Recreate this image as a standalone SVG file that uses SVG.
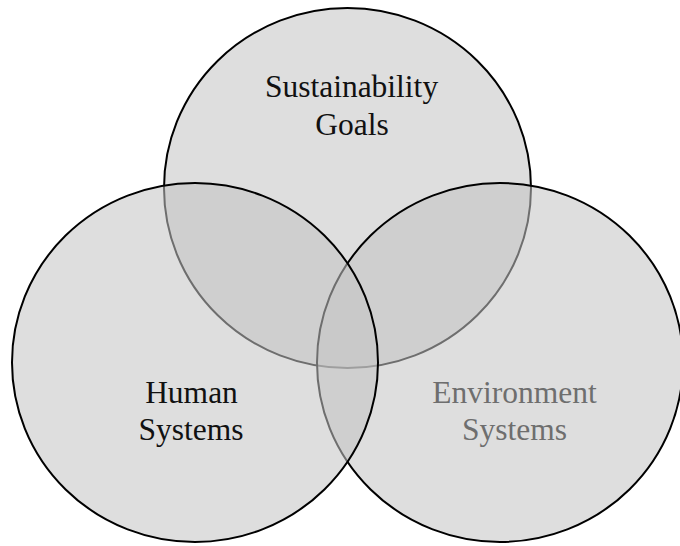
<svg xmlns="http://www.w3.org/2000/svg" width="680" height="546" viewBox="0 0 680 546">
<style>
.set{fill:#c4c4c4;fill-opacity:0.56;stroke:#000;stroke-width:2}
.lbl{font-family:"Liberation Serif","Times New Roman",serif;font-size:31.5px;text-anchor:middle;fill:#111}
</style>
<rect width="680" height="546" fill="#fff"/>
<g id="sustainability">
<ellipse class="set" cx="347.5" cy="188" rx="183.5" ry="180"/>
<text class="lbl" x="351.5" y="97">Sustainability</text>
<text class="lbl" x="352" y="135">Goals</text>
</g>
<g id="environment">
<ellipse class="set" cx="500" cy="362.5" rx="183" ry="179.5"/>
<text class="lbl" x="514.5" y="403" style="fill:#6e6e6e">Environment</text>
<text class="lbl" x="514.5" y="440" style="fill:#6e6e6e">Systems</text>
</g>
<g id="human">
<ellipse class="set" cx="195" cy="362.5" rx="183" ry="179.5"/>
<text class="lbl" x="191.5" y="403">Human</text>
<text class="lbl" x="191" y="440">Systems</text>
</g>
<g id="connectors"/>
</svg>
